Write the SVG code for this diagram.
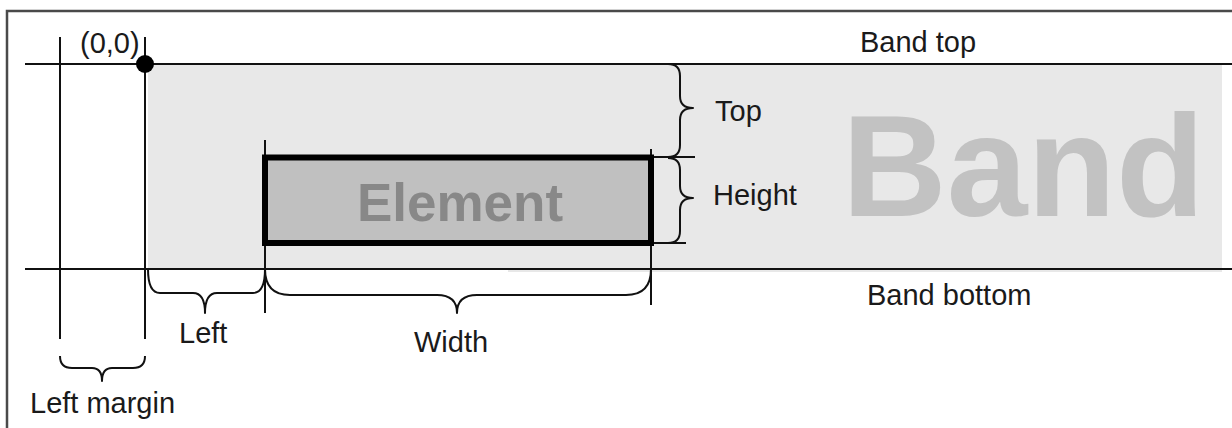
<svg xmlns="http://www.w3.org/2000/svg" width="1232" height="428" viewBox="0 0 1232 428">
<style>
.ln{stroke:#111;stroke-width:2;fill:none}
.br{stroke:#111;stroke-width:2;fill:none;stroke-linejoin:round}
.lbl{font-family:"Liberation Sans",Arial,sans-serif;font-size:29px;fill:#1a1a1a}
</style>
<rect x="0" y="0" width="1232" height="428" fill="#fff"/>
<rect x="7" y="11" width="1240" height="430" fill="none" stroke="#4a4a4a" stroke-width="2.5"/>
<g id="band">
<rect x="148" y="64" width="1074" height="204" fill="#e8e8e8"/>
<rect x="508" y="268" width="714" height="4" fill="#e8e8e8"/>
<text x="842" y="216" font-family="Liberation Sans,Arial,sans-serif" font-weight="bold" font-size="145" fill="#c2c2c2">Band</text>
</g>
<g id="guides">
<line class="ln" x1="25" y1="64" x2="1232" y2="64"/>
<line class="ln" x1="25" y1="269" x2="1232" y2="269"/>
<line class="ln" x1="60" y1="37" x2="60" y2="339"/>
<line class="ln" x1="145" y1="37" x2="145" y2="339"/>
<line class="ln" x1="265" y1="140" x2="265" y2="313"/>
<line class="ln" x1="651" y1="149" x2="651" y2="305"/>
<line class="ln" x1="651" y1="157" x2="695" y2="157"/>
<line class="ln" x1="651" y1="243" x2="686" y2="243"/>
</g>
<g id="origin">
<circle cx="145" cy="64" r="9" fill="#000"/>
<text class="lbl" x="80" y="53">(0,0)</text>
</g>
<g id="element">
<rect x="265" y="157.5" width="386" height="85.5" fill="#c0c0c0" stroke="#000" stroke-width="6"/>
<text x="460" y="221" text-anchor="middle" font-family="Liberation Sans,Arial,sans-serif" font-weight="bold" font-size="53" fill="#888">Element</text>
</g>
<g id="connectors">
<path class="br" d="M668 64 Q680 64 680 76 L680 96 Q680 108 693 108 Q680 108 680 120 L680 145 Q680 157 668 157"/>
<path class="br" d="M668 158 Q680 158 680 170 L680 186 Q680 198 693 198 Q680 198 680 210 L680 231 Q680 243 668 243"/>
<path class="br" d="M148 269 Q148 293 160 293 L193 293 Q205 293 205 313 Q205 293 217 293 L253 293 Q265 293 265 269"/>
<path class="br" d="M265 269 Q265 295 290 295 L437 295 Q457 295 457 313 Q457 295 477 295 L626 295 Q651 295 651 269"/>
<path class="br" d="M60 356 Q60 368 72 368 L92 368 Q102 368 102 381 Q102 368 112 368 L133 368 Q145 368 145 356"/>
</g>
<g id="labels">
<text class="lbl" x="860" y="52">Band top</text>
<text class="lbl" x="867" y="305">Band bottom</text>
<text class="lbl" x="715" y="121">Top</text>
<text class="lbl" x="713" y="205">Height</text>
<text class="lbl" x="179" y="343">Left</text>
<text class="lbl" x="414" y="352">Width</text>
<text class="lbl" x="30" y="413">Left margin</text>
</g>
</svg>
